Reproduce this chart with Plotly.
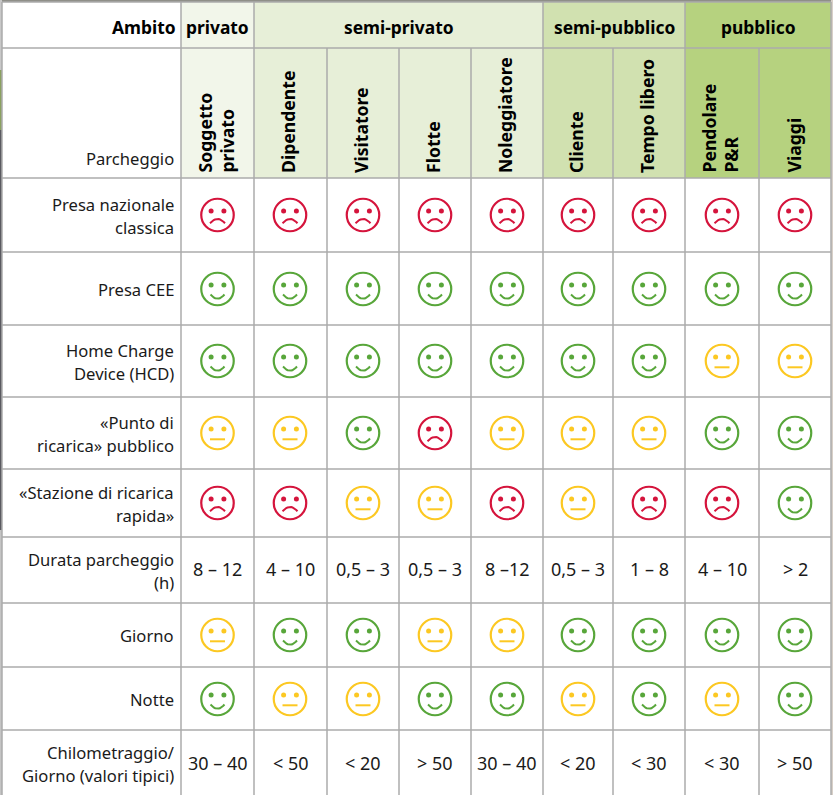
import plotly.graph_objects as go

# ---------- data ----------
ambiti = ["privato", "semi-privato", "semi-pubblico", "pubblico"]
ambito_spans = [1, 4, 2, 2]
parcheggi = ["Soggetto<br>privato", "Dipendente", "Visitatore", "Flotte", "Noleggiatore",
             "Cliente", "Tempo libero", "Pendolare<br>P&R", "Viaggi"]
row_labels = ["Presa nazionale<br>classica", "Presa CEE", "Home Charge<br>Device (HCD)",
              "«Punto di<br>ricarica» pubblico", "«Stazione di ricarica<br>rapida»",
              "Durata parcheggio<br>(h)", "Giorno", "Notte",
              "Chilometraggio/<br>Giorno (valori tipici)"]
presa_nazionale = list("RRRRRRRRR")
presa_cee = list("GGGGGGGGG")
home_charge = list("GGGGGGGYY")
punto_ricarica = list("YYGRYYYGG")
stazione_rapida = list("RRYYRYRRG")
durata = ["8 – 12", "4 – 10", "0,5 – 3", "0,5 – 3", "8 –12", "0,5 – 3", "1 – 8", "4 – 10", "> 2"]
giorno = list("YGGYYGGGG")
notte = list("GYYGGYGYG")
chilometraggio = ["30 – 40", "< 50", "< 20", "> 50", "30 – 40", "< 20", "< 30", "< 30", "> 50"]
rows = [presa_nazionale, presa_cee, home_charge, punto_ricarica, stazione_rapida,
        durata, giorno, notte, chilometraggio]

# ---------- layout constants ----------
W, H = 833, 795
X = [2, 181, 254, 327, 399, 471, 543, 613, 685, 759, 831]
Y = [2, 48, 178, 252, 325, 397, 469, 537, 603, 667, 730, 797]
FACE_Y = [215, 289, 361, 433, 503, 570, 635, 699, 763]
FACE_X = [217.5, 290, 363, 435, 507, 578, 649, 722, 795]
FILLS = ["#f2f6ea", "#e7efd8", "#d1e1b0", "#b6d27f"]
COL = {"G": "#58a63a", "R": "#d5143c", "Y": "#fcc822"}
GRID = "#ababab"
FONT = "Noto Sans"
INK = "#1a1a1a"
LINE_GAP = 23

fig = go.Figure()
shapes = []
ann = []


def text(x, y, t, size=16, bold=False, xa="center", ya="middle", angle=0, align="center"):
    ann.append(dict(x=x, y=y, xref="x", yref="y", text=f"<b>{t}</b>" if bold else t,
                    showarrow=False, xanchor=xa, yanchor=ya, textangle=angle, align=align,
                    font=dict(family=FONT, size=size, color="#000" if bold else INK),
                    borderpad=0, borderwidth=0))


# screenshot edges around the table
for x0, x1, y0, y1, c in [(0, W, 0, 2, "#8f8f88"), (0, 2, 70, 130, "#8aa060"),
                          (0, 2, 130, 530, "#5a5a60"), (0, 2, 530, H, "#c4c4c4"),
                          (0, 2, 0, 70, "#c8c8c8"), (831, W, 0, H, "#d8d0c8")]:
    shapes.append(dict(type="rect", x0=x0, x1=x1, y0=y0, y1=y1, fillcolor=c, line_width=0, layer="below"))

# header fills
col = 1
for name, span, fill in zip(ambiti, ambito_spans, FILLS):
    shapes.append(dict(type="rect", x0=X[col], x1=X[col + span], y0=Y[0], y1=Y[2],
                       fillcolor=fill, line_width=0, layer="below"))
    text((X[col] + X[col + span]) / 2, 27, name, size=17.4, bold=True)
    col += span

# grid
for x in X:
    top = Y[1] if x in (X[3], X[4], X[5], X[7], X[9]) else Y[0]
    shapes.append(dict(type="line", x0=x, x1=x, y0=top, y1=H, line=dict(color=GRID, width=1.5)))
for y in Y[:-1]:
    shapes.append(dict(type="line", x0=X[0], x1=X[-1], y0=y, y1=y, line=dict(color=GRID, width=1.5)))

text(176, 27, "Ambito", size=17.4, bold=True, xa="right")
text(174, 158, "Parcheggio", size=16.6, xa="right")

for i, p in enumerate(parcheggi):
    text(FACE_X[i] - 2, 173, p.replace("&", "&amp;"), size=17.6, bold=True, ya="bottom", angle=-90, align="left")

for r, label in enumerate(row_labels):
    lines = label.split("<br>")
    for k, part in enumerate(lines):
        offset = (k - (len(lines) - 1) / 2) * LINE_GAP
        text(174, FACE_Y[r] + offset + (1 if len(lines) > 1 else 0), part, size=16.6, xa="right", align="right")


# faces, one group of traces per rating
def parts(code):
    cx, cy = [], []
    for r, row in enumerate(rows):
        for c, v in enumerate(row):
            if v == code:
                cx.append(FACE_X[c])
                cy.append(FACE_Y[r])
    return cx, cy


MOUTH = {"G": (5.5, 4.2, 7.0), "R": (8.3, -4.3, 7.5), "Y": (6.3, 0.0, 7.5)}
for code, colour in COL.items():
    cx, cy = parts(code)
    fig.add_trace(go.Scatter(x=cx, y=cy, mode="markers", hoverinfo="skip", showlegend=False,
                             marker=dict(symbol="circle-open", size=32.5, color=colour,
                                         line=dict(color=colour, width=2.2))))
    ex, ey = [], []
    for a, b in zip(cx, cy):
        ex += [a - 6.4, a + 6.4]
        ey += [b - 4, b - 4]
    fig.add_trace(go.Scatter(x=ex, y=ey, mode="markers", hoverinfo="skip", showlegend=False,
                             marker=dict(symbol="circle", size=5, color=colour, line_width=0)))
    base, depth, half = MOUTH[code]
    mx, my = [], []
    for a, b in zip(cx, cy):
        for k in range(-6, 7):
            t = k / 6
            mx.append(a + half * t)
            my.append(b + base + depth * (1 - t * t))
        mx.append(None)
        my.append(None)
    fig.add_trace(go.Scatter(x=mx, y=my, mode="lines", hoverinfo="skip", showlegend=False,
                             line=dict(color=colour, width=2)))

# numeric rows
for r in (5, 8):
    for c, v in enumerate(rows[r]):
        text((X[c + 1] + X[c + 2]) / 2, FACE_Y[r] + (-1 if r == 5 else 0),
             v.replace("<", "&lt;").replace(">", "&gt;"), size=18)

fig.update_layout(width=W, height=H, margin=dict(l=0, r=0, t=0, b=0),
                  paper_bgcolor="white", plot_bgcolor="white", shapes=shapes, annotations=ann,
                  showlegend=False,
                  xaxis=dict(range=[0, W], visible=False, fixedrange=True),
                  yaxis=dict(range=[H, 0], visible=False, fixedrange=True))
fig.write_html("out.html", config=dict(displayModeBar=False),
               post_script="document.body.style.margin='0';")
